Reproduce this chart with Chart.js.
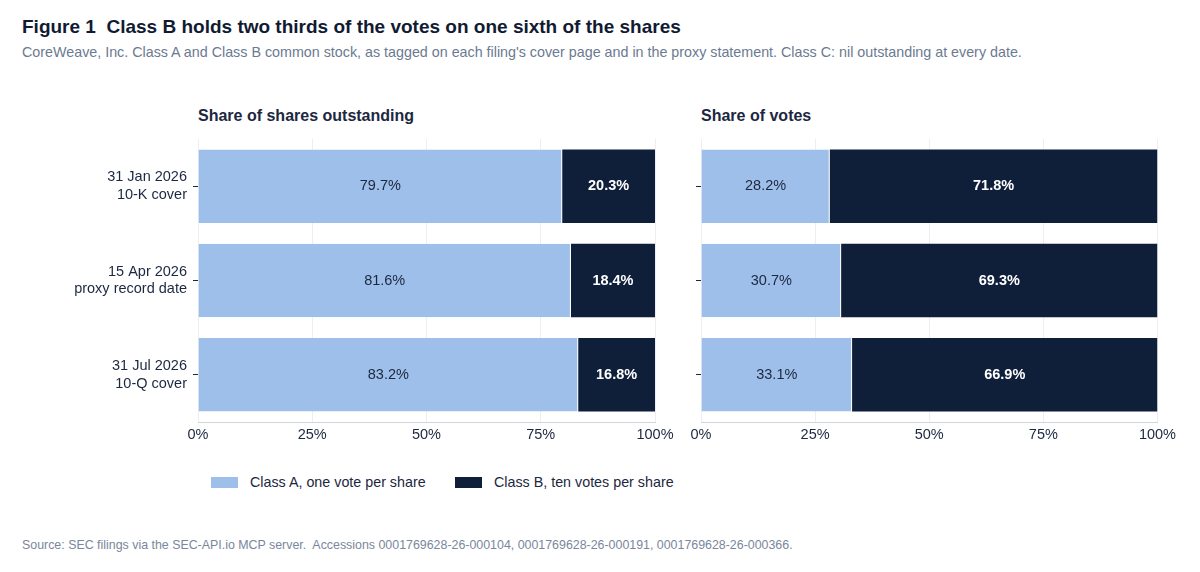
<!DOCTYPE html>
<html><head><meta charset="utf-8">
<script src="https://cdn.jsdelivr.net/npm/chart.js@4"></script>
<style>
body{margin:0;width:1200px;height:572px;font-family:"Liberation Sans",Arial,sans-serif;background:#fff;position:relative;overflow:hidden}
.t{position:absolute;white-space:nowrap}
canvas{position:absolute}
</style></head><body>
<div class="t" style="left:22px;top:16px;font-size:19px;font-weight:bold;color:#111a33">Figure 1&nbsp; Class B holds two thirds of the votes on one sixth of the shares</div>
<div class="t" style="left:22px;top:44px;font-size:14.3px;color:#6b7a90">CoreWeave, Inc. Class A and Class B common stock, as tagged on each filing's cover page and in the proxy statement. Class C: nil outstanding at every date.</div>
<div class="t" style="left:198px;top:107px;font-size:16px;font-weight:bold;color:#1c2740">Share of shares outstanding</div>
<div class="t" style="left:701px;top:107px;font-size:16px;font-weight:bold;color:#1c2740">Share of votes</div>
<div style="position:absolute;left:680px;top:130px;width:500px;height:322px"><canvas id="c2"></canvas></div>
<div style="position:absolute;left:0;top:130px;width:680px;height:322px"><canvas id="c1"></canvas></div>
<div class="t" style="left:211px;top:474px;font-size:14.3px;color:#1c2740"><span style="display:inline-block;width:27px;height:11px;background:#9dbfe9;vertical-align:-1px;margin-right:12px"></span>Class A, one vote per share</div>
<div class="t" style="left:455px;top:474px;font-size:14.3px;color:#1c2740"><span style="display:inline-block;width:27px;height:11px;background:#0f1f3a;vertical-align:-1px;margin-right:12px"></span>Class B, ten votes per share</div>
<div class="t" style="left:22px;top:538px;font-size:12.4px;color:#7a879b">Source: SEC filings via the SEC-API.io MCP server.&nbsp; Accessions 0001769628-26-000104, 0001769628-26-000191, 0001769628-26-000366.</div>
<script>
const categories = [['31 Jan 2026','10-K cover'],['15 Apr 2026','proxy record date'],['31 Jul 2026','10-Q cover']];
const sharesA = [79.7, 81.6, 83.2];
const sharesB = [20.3, 18.4, 16.8];
const votesA = [28.2, 30.7, 33.1];
const votesB = [71.8, 69.3, 66.9];
const xTicks = [0, 25, 50, 75, 100];

const labelPlugin = {
  id: 'segLabels',
  afterDatasetsDraw(chart) {
    const ctx = chart.ctx;
    chart.data.datasets.forEach((ds, di) => {
      chart.getDatasetMeta(di).data.forEach((bar, i) => {
        const cx = (bar.x + bar.base) / 2;
        ctx.save();
        ctx.font = (di === 1 ? 'bold ' : '') + '14.5px "Liberation Sans", Arial';
        ctx.fillStyle = di === 1 ? '#ffffff' : '#1c2740';
        ctx.textAlign = 'center'; ctx.textBaseline = 'middle';
        ctx.fillText(ds.data[i].toFixed(1) + '%', cx, bar.y);
        ctx.restore();
      });
    });
  }
};

function make(id, a, b, yWidth, showLabels, padRight) {
  new Chart(document.getElementById(id), {
    type: 'bar',
    data: {
      labels: categories,
      datasets: [
        { data: a, backgroundColor: '#9dbfe9', borderColor: '#ffffff', borderWidth: {right: 1}, borderSkipped: false, categoryPercentage: 1, barPercentage: 0.78 },
        { data: b, backgroundColor: '#0f1f3a', borderWidth: 0, categoryPercentage: 1, barPercentage: 0.78 }
      ]
    },
    options: {
      indexAxis: 'y', responsive: true, maintainAspectRatio: false, animation: false,
      layout: { padding: { top: 9, right: padRight } },
      plugins: { legend: { display: false }, tooltip: { enabled: false } },
      scales: {
        x: {
          stacked: true, min: 0, max: 100,
          afterBuildTicks: s => { s.ticks = xTicks.map(v => ({ value: v })); },
          afterFit: s => { s.height = 30; },
          ticks: { callback: v => v + '%', color: '#1c2740', font: { size: 14.5, family: '"Liberation Sans", Arial' }, padding: 4, maxRotation: 0 },
          grid: { color: '#eceef3', drawTicks: false },
          border: { color: '#d0d4dd' }
        },
        y: {
          stacked: true,
          afterFit: s => { s.width = yWidth; s.paddingTop = 0; s.paddingBottom = 0; },
          ticks: { display: showLabels, color: '#1c2740', font: { size: 14.5, family: '"Liberation Sans", Arial' }, padding: 6 },
          grid: { display: true, offset: false, drawOnChartArea: false, tickLength: 5, tickColor: '#1c2740' },
          border: { display: false }
        }
      }
    },
    plugins: [labelPlugin]
  });
}
make('c1', sharesA, sharesB, 198, true, 25);
make('c2', votesA, votesB, 21, false, 22);
</script>
</body></html>
